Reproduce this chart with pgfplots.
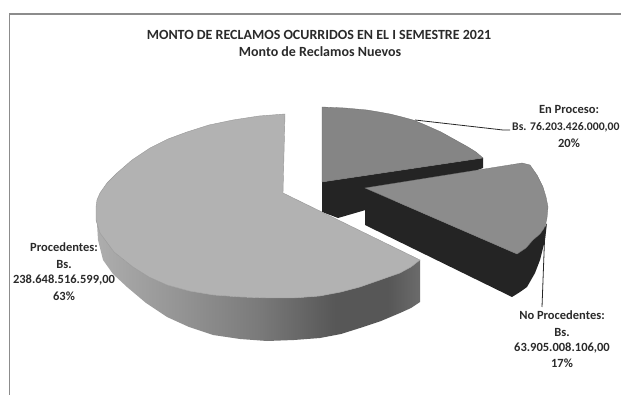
\documentclass[border=0pt]{standalone}
\usepackage{pgfplots}
\pgfplotsset{compat=1.18}
\usepackage{fontspec}
\setmainfont{Carlito}
\definecolor{framegray}{HTML}{8C8C8C}
\definecolor{topA}{HTML}{B2B2B2}
\definecolor{topB}{HTML}{858585}
\definecolor{topC}{HTML}{8C8C8C}
\definecolor{wallDark}{HTML}{242424}
\definecolor{ink}{HTML}{2A2A2A}
\pgfdeclarehorizontalshading{wallgrad}{100bp}{
  color(0bp)=(black!30); color(25bp)=(black!32); color(38bp)=(black!42);
  color(50bp)=(black!52); color(62bp)=(black!66); color(70bp)=(black!66);
  color(75bp)=(black!58); color(100bp)=(black!58)}
\newcommand{\lbl}[3]{\node[text=ink,font=\fontsize{#1}{#1}\selectfont\bfseries,inner sep=0pt,anchor=center] at (axis cs:#2) {#3};}
\begin{document}
\begin{tikzpicture}[x=1pt,y=1pt]
\useasboundingbox (0,0) rectangle (621,395);
\begin{axis}[
  at={(0,0)},anchor=south west,
  width=621pt,height=395pt,scale only axis,
  xmin=0,xmax=621,ymin=0,ymax=395,y dir=reverse,
  hide axis,clip=false]
% frame lines
\addplot[framegray,line width=1.6pt] coordinates {(9.5,395) (9.5,14) (621,14)};
% slice: En Proceso
\addplot[draw=none,fill=wallDark] coordinates {(322,182) (483,158) (483,168) (400,200) (338,218) (322,212)} -- cycle;
\addplot[fill=topB,draw=topB!80!black,line width=0.3pt] coordinates {(322,107) (345,108) (367,110) (379,112) (390,114) (402,117) (413,120) (423,124) (432,128) (441,132) (450,137) (459,142) (468,147) (476,152) (483,158) (322,182)} -- cycle;
% slice: No Procedentes
\addplot[draw=none,fill=wallDark] coordinates {(365,188) (517,254) (545,227) (547,223) (545,240) (540,260) (535,273) (527,287) (520,292) (512,297) (365,225)} -- cycle;
\addplot[fill=topC,draw=topC!80!black,line width=0.3pt] coordinates {(365,188) (522,163) (530,165) (537,175) (543,187) (546,197) (548,207) (547,218) (545,227) (540,234) (533,240) (526,248) (517,254)} -- cycle;
% slice: Procedentes
\addplot[draw=none,shading=wallgrad] coordinates {(96,207) (96,220) (100,233) (114,252) (133,267) (149,277) (167,285) (189,291) (213,295) (240,297) (267,298) (294,298) (320,296) (341,292) (360,287) (380,280) (400,273) (411,267) (420,260) (420,302) (411,308) (400,313) (381,321) (360,328) (341,334) (320,338) (294,340) (267,341) (240,339) (213,335) (189,327) (167,317) (146,303) (127,287) (113,274) (103,260) (98,240)} -- cycle;
\addplot[fill=topA,draw=topA!85!black,line width=0.4pt] coordinates {(285,114) (259,116) (233,120) (209,125) (187,132) (168,139) (150,148) (132,160) (117,173) (107,183) (100,193) (97,200) (96,207) (96,220) (100,233) (114,252) (133,267) (149,277) (167,285) (189,291) (213,295) (240,297) (267,298) (294,298) (320,296) (341,292) (360,287) (380,280) (400,273) (411,267) (420,260) (283,193)} -- cycle;
% leader lines
\addplot[black!85,line width=0.8pt] coordinates {(415,120) (503,130) (510,130)};
\addplot[black!85,line width=0.8pt] coordinates {(545,227) (542,307)};
% title
\lbl{14}{319,35}{MONTO DE RECLAMOS OCURRIDOS EN EL I SEMESTRE 2021}
\lbl{14}{320,52}{Monto de Reclamos Nuevos}
% data labels
\lbl{12.5}{569,109}{En Proceso:}
\node[text=ink,font=\fontsize{11.7}{11.7}\selectfont\bfseries,inner sep=0pt,anchor=west] at (axis cs:512,127) {Bs. 76.203.426.000,00};
\lbl{12.5}{569,143}{20\%}
\lbl{12.5}{562,315}{No Procedentes:}
\lbl{12.5}{562,332}{Bs.}
\lbl{12.5}{562,348}{63.905.008.106,00}
\lbl{12.5}{562,363}{17\%}
\lbl{12.5}{64,247}{Procedentes:}
\lbl{12.5}{64,264}{Bs.}
\lbl{12.5}{64,280}{238.648.516.599,00}
\lbl{12.5}{64,296}{63\%}
\end{axis}
\end{tikzpicture}
\end{document}
